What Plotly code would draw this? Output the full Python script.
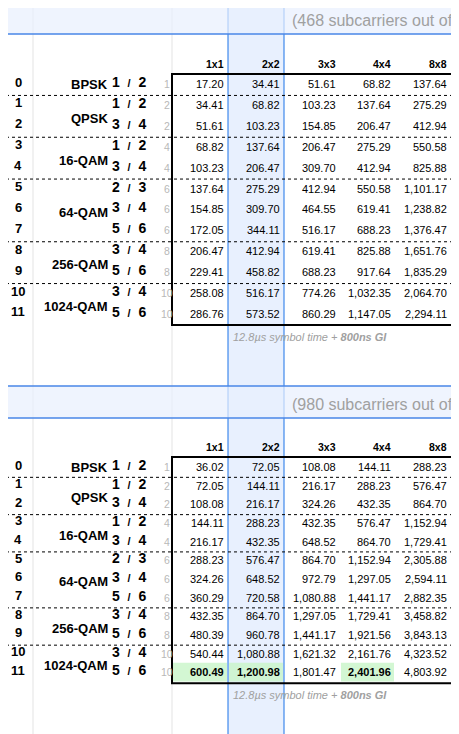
import plotly.graph_objects as go

# data
mcs = list(range(12))
mods = ["BPSK", "QPSK", "16-QAM", "64-QAM", "256-QAM", "1024-QAM"]
mod_rows = [(0, 0), (1, 2), (3, 4), (5, 7), (8, 9), (10, 11)]
rates = ["1 / 2", "1 / 2", "3 / 4", "1 / 2", "3 / 4", "2 / 3", "3 / 4", "5 / 6",
         "3 / 4", "5 / 6", "3 / 4", "5 / 6"]
nbits = [1, 2, 2, 4, 4, 6, 6, 6, 8, 8, 10, 10]
streams = ["1x1", "2x2", "3x3", "4x4", "8x8"]
rates_40 = [
    [17.20, 34.41, 51.61, 68.82, 137.64],
    [34.41, 68.82, 103.23, 137.64, 275.29],
    [51.61, 103.23, 154.85, 206.47, 412.94],
    [68.82, 137.64, 206.47, 275.29, 550.58],
    [103.23, 206.47, 309.70, 412.94, 825.88],
    [137.64, 275.29, 412.94, 550.58, 1101.17],
    [154.85, 309.70, 464.55, 619.41, 1238.82],
    [172.05, 344.11, 516.17, 688.23, 1376.47],
    [206.47, 412.94, 619.41, 825.88, 1651.76],
    [229.41, 458.82, 688.23, 917.64, 1835.29],
    [258.08, 516.17, 774.26, 1032.35, 2064.70],
    [286.76, 573.52, 860.29, 1147.05, 2294.11],
]
rates_80 = [
    [36.02, 72.05, 108.08, 144.11, 288.23],
    [72.05, 144.11, 216.17, 288.23, 576.47],
    [108.08, 216.17, 324.26, 432.35, 864.70],
    [144.11, 288.23, 432.35, 576.47, 1152.94],
    [216.17, 432.35, 648.52, 864.70, 1729.41],
    [288.23, 576.47, 864.70, 1152.94, 2305.88],
    [324.26, 648.52, 972.79, 1297.05, 2594.11],
    [360.29, 720.58, 1080.88, 1441.17, 2882.35],
    [432.35, 864.70, 1297.05, 1729.41, 3458.82],
    [480.39, 960.78, 1441.17, 1921.56, 3843.13],
    [540.44, 1080.88, 1621.32, 2161.76, 4323.52],
    [600.49, 1200.98, 1801.47, 2401.96, 4803.92],
]
highlight_80 = [(11, 0), (11, 1), (11, 3)]
sections = [
    ("40", "468", rates_40, []),
    ("80", "980", rates_80, highlight_80),
]

FONT = "Liberation Sans"
col_x = [226, 282, 338, 393, 449]
col_l = [172, 228, 284, 340, 395, 452]
shapes, ann = [], []

def text(x, y, s, size=11, color="black", anchor="right", bold=False, italic=False):
    if bold:
        s = "<b>" + s + "</b>"
    if italic:
        s = "<i>" + s + "</i>"
    ann.append(dict(x=x, y=y, text=s, showarrow=False, xanchor=anchor, yanchor="middle",
                    font=dict(family=FONT, size=size, color=color)))

# faint sheet grid on the left
for gx in [2, 33, 172]:
    shapes.append(dict(type="line", x0=gx, x1=gx, y0=0, y1=734,
                       line=dict(color="#e3e3e3", width=1), layer="below"))

# selected column
shapes.append(dict(type="rect", x0=228, x1=284, y0=-10, y1=745, fillcolor="#e8f0fe",
                   line=dict(color="#1a73e8", width=1), layer="below"))

for k, (mhz, sub, vals, hl) in enumerate(sections):
    top = 0 if k == 0 else 384
    row_y0 = 84 if k == 0 else 467
    step = 20.9 if k == 0 else 18.65
    hdr = top + 64 if k == 0 else 447
    box_top = hdr + 10
    box_bot = row_y0 + 11 * step + 11

    shapes.append(dict(type="rect", x0=3, x1=470, y0=top + 2, y1=top + 34,
                       fillcolor="rgba(232,240,254,0.7)", line=dict(color="#4a86e8", width=1.5),
                       layer="below"))
    text(6, top + 18, "802.11<b>ax</b> " + mhz + " MHz channel", size=23, anchor="left")
    text(290, top + 20, "(" + sub + " subcarriers out of", size=16, color="#a0a0a0", anchor="left")

    text(4, hdr, "MCS Modulation/Encoding", size=12.5, anchor="left", bold=True)
    for c, s in enumerate(streams):
        text(col_x[c], hdr, s, size=10.5, bold=True)

    ry = [row_y0 + i * step for i in mcs]
    for (r, c) in hl:
        shapes.append(dict(type="rect", x0=col_l[c] + 1, x1=col_l[c + 1] - 1,
                           y0=ry[r] - step / 2, y1=ry[r] + step / 2,
                           fillcolor="rgba(200,245,200,0.8)", line=dict(width=0), layer="below"))
    for i in mcs:
        text(18, ry[i] - 2, str(i), size=13, anchor="center", bold=True)
        text(148, ry[i] - 2, rates[i].replace(" / ", "  <span style='font-size:11px'>/</span>  "),
             size=14, bold=True)
        text(167, ry[i], str(nbits[i]), size=10.5, color="#b8b8b8", anchor="center")
        for c in range(5):
            v = vals[i][c]
            text(col_x[c], ry[i], f"{v:,.2f}", size=11, bold=(i, c) in hl)
    for m, (a, b) in zip(mods, mod_rows):
        text(110, (ry[a] + ry[b]) / 2 + (0 if a == b else 3), m, size=13, bold=True)
    for b in [0, 2, 4, 7, 9]:
        yy = (ry[b] + ry[b + 1]) / 2 + 1
        shapes.append(dict(type="line", x0=0, x1=452, y0=yy, y1=yy,
                           line=dict(color="black", width=1, dash="dot")))
    shapes.append(dict(type="rect", x0=172, x1=452, y0=box_top, y1=box_bot,
                       line=dict(color="black", width=2)))
    text(231, box_bot + 12, "12.8µs symbol time + <b>800ns GI</b>", size=11,
         color="#a0a0a0", anchor="left", italic=True)

fig = go.Figure()
# page body adds an 8px offset, so shift the visible window accordingly
fig.update_layout(width=459, height=734, margin=dict(l=0, r=0, t=0, b=0),
                  plot_bgcolor="white", paper_bgcolor="white", shapes=shapes, annotations=ann,
                  xaxis=dict(range=[8, 467], visible=False, fixedrange=True),
                  yaxis=dict(range=[742, 8], visible=False, fixedrange=True),
                  showlegend=False)
fig.write_html("out.html", config={"displayModeBar": False})
